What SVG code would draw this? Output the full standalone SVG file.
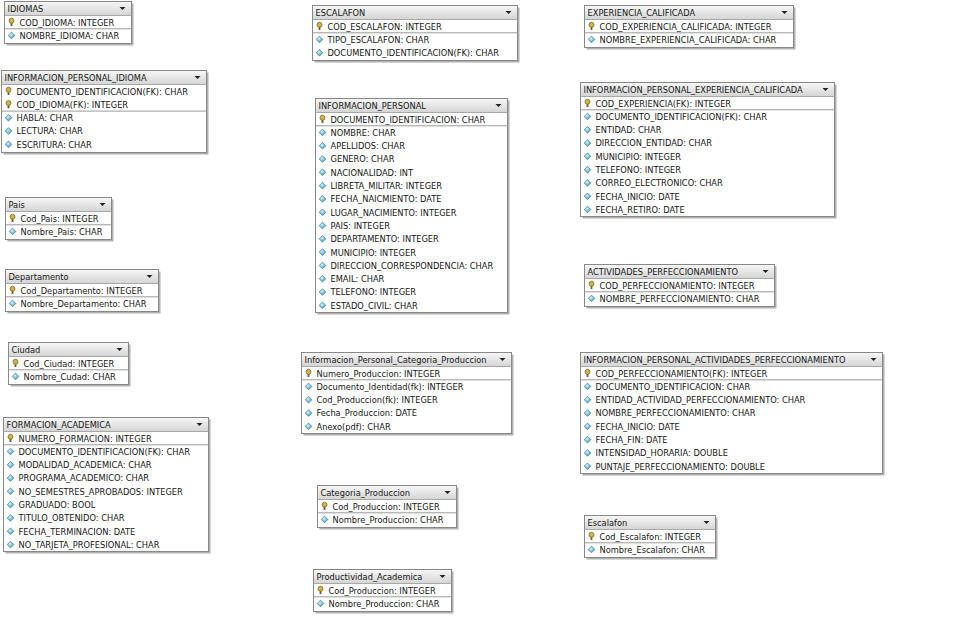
<svg xmlns="http://www.w3.org/2000/svg" xmlns:xlink="http://www.w3.org/1999/xlink" width="960" height="625" viewBox="0 0 960 625">
<defs>
<linearGradient id="tg" x1="0" y1="0" x2="0" y2="1">
<stop offset="0" stop-color="#f6f6f6"/>
<stop offset="1" stop-color="#d4d4d4"/>
</linearGradient>
<radialGradient id="cg" cx="0.4" cy="0.35" r="0.7">
<stop offset="0" stop-color="#d8f2fa"/>
<stop offset="1" stop-color="#3f97b5"/>
</radialGradient>
<g id="key">
<rect x="-0.9" y="-0.5" width="1.8" height="4.4" fill="#6f5e22"/>
<circle cx="0" cy="-1.4" r="2.5" fill="#d2b44a" stroke="#7d6824" stroke-width="0.8"/>
</g>
<g id="col">
<path d="M0,-3.3 L3.3,0 L0,3.3 L-3.3,0 Z" fill="url(#cg)" stroke="#3a86a3" stroke-width="0.8"/>
</g>
<path id="dd" d="M-3,-1.5 L3,-1.5 L0,1.6 Z" fill="#222"/>
</defs>
<style>
.sh{fill:#b0b0b0}
.box{fill:#ffffff;stroke:#888888;stroke-width:1}
.tb{fill:url(#tg)}
.tl{stroke:#a8a8a8;stroke-width:1}
.sep{stroke:#9a9a9a;stroke-width:1}
.t{font-family:"DejaVu Sans Condensed","Liberation Sans Narrow","Liberation Sans",sans-serif;font-size:9.2px;fill:#161616}
</style>
<rect width="960" height="625" fill="#ffffff"/>
<g id="connectors"/>

<g id="IDIOMAS" transform="translate(4.5,1.5)">
<rect class="sh" x="2" y="2" width="127" height="42"/>
<rect class="box" width="127" height="42"/>
<rect class="tb" x="0.5" y="0.5" width="126" height="13.5"/>
<line class="tl" x1="0" y1="14" x2="127" y2="14"/>
<use href="#dd" x="118" y="7"/>
<text class="t" x="3" y="10.5">IDIOMAS</text>
<use href="#key" x="7" y="20.65"/><text class="t" x="15" y="24">COD_IDIOMA: INTEGER</text>
<line class="sep" x1="0" y1="27.3" x2="127" y2="27.3"/>
<use href="#col" x="7" y="33.95"/><text class="t" x="15" y="37.3">NOMBRE_IDIOMA: CHAR</text>
</g>

<g id="INFORMACION_PERSONAL_IDIOMA" transform="translate(1.5,70.5)">
<rect class="sh" x="2" y="2" width="205" height="82"/>
<rect class="box" width="205" height="82"/>
<rect class="tb" x="0.5" y="0.5" width="204" height="13.5"/>
<line class="tl" x1="0" y1="14" x2="205" y2="14"/>
<use href="#dd" x="196" y="7"/>
<text class="t" x="3" y="10.5">INFORMACION_PERSONAL_IDIOMA</text>
<use href="#key" x="7" y="20.65"/><text class="t" x="15" y="24">DOCUMENTO_IDENTIFICACION(FK): CHAR</text>
<use href="#key" x="7" y="33.95"/><text class="t" x="15" y="37.3">COD_IDIOMA(FK): INTEGER</text>
<line class="sep" x1="0" y1="40.6" x2="205" y2="40.6"/>
<use href="#col" x="7" y="47.25"/><text class="t" x="15" y="50.6">HABLA: CHAR</text>
<use href="#col" x="7" y="60.55"/><text class="t" x="15" y="63.9">LECTURA: CHAR</text>
<use href="#col" x="7" y="73.85"/><text class="t" x="15" y="77.2">ESCRITURA: CHAR</text>
</g>

<g id="ESCALAFON" transform="translate(312.5,5.5)">
<rect class="sh" x="2" y="2" width="205" height="55"/>
<rect class="box" width="205" height="55"/>
<rect class="tb" x="0.5" y="0.5" width="204" height="13.5"/>
<line class="tl" x1="0" y1="14" x2="205" y2="14"/>
<use href="#dd" x="196" y="7"/>
<text class="t" x="3" y="10.5">ESCALAFON</text>
<use href="#key" x="7" y="20.65"/><text class="t" x="15" y="24">COD_ESCALAFON: INTEGER</text>
<line class="sep" x1="0" y1="27.3" x2="205" y2="27.3"/>
<use href="#col" x="7" y="33.95"/><text class="t" x="15" y="37.3">TIPO_ESCALAFON: CHAR</text>
<use href="#col" x="7" y="47.25"/><text class="t" x="15" y="50.6">DOCUMENTO_IDENTIFICACION(FK): CHAR</text>
</g>

<g id="EXPERIENCIA_CALIFICADA" transform="translate(584.5,5.5)">
<rect class="sh" x="2" y="2" width="209" height="42"/>
<rect class="box" width="209" height="42"/>
<rect class="tb" x="0.5" y="0.5" width="208" height="13.5"/>
<line class="tl" x1="0" y1="14" x2="209" y2="14"/>
<use href="#dd" x="200" y="7"/>
<text class="t" x="3" y="10.5">EXPERIENCIA_CALIFICADA</text>
<use href="#key" x="7" y="20.65"/><text class="t" x="15" y="24">COD_EXPERIENCIA_CALIFICADA: INTEGER</text>
<line class="sep" x1="0" y1="27.3" x2="209" y2="27.3"/>
<use href="#col" x="7" y="33.95"/><text class="t" x="15" y="37.3">NOMBRE_EXPERIENCIA_CALIFICADA: CHAR</text>
</g>

<g id="INFORMACION_PERSONAL" transform="translate(315.5,98.5)">
<rect class="sh" x="2" y="2" width="192" height="214"/>
<rect class="box" width="192" height="214"/>
<rect class="tb" x="0.5" y="0.5" width="191" height="13.5"/>
<line class="tl" x1="0" y1="14" x2="192" y2="14"/>
<use href="#dd" x="183" y="7"/>
<text class="t" x="3" y="10.5">INFORMACION_PERSONAL</text>
<use href="#key" x="7" y="20.65"/><text class="t" x="15" y="24">DOCUMENTO_IDENTIFICACION: CHAR</text>
<line class="sep" x1="0" y1="27.3" x2="192" y2="27.3"/>
<use href="#col" x="7" y="33.95"/><text class="t" x="15" y="37.3">NOMBRE: CHAR</text>
<use href="#col" x="7" y="47.25"/><text class="t" x="15" y="50.6">APELLIDOS: CHAR</text>
<use href="#col" x="7" y="60.55"/><text class="t" x="15" y="63.9">GENERO: CHAR</text>
<use href="#col" x="7" y="73.85"/><text class="t" x="15" y="77.2">NACIONALIDAD: INT</text>
<use href="#col" x="7" y="87.15"/><text class="t" x="15" y="90.5">LIBRETA_MILITAR: INTEGER</text>
<use href="#col" x="7" y="100.45"/><text class="t" x="15" y="103.8">FECHA_NAICMIENTO: DATE</text>
<use href="#col" x="7" y="113.75"/><text class="t" x="15" y="117.1">LUGAR_NACIMIENTO: INTEGER</text>
<use href="#col" x="7" y="127.05"/><text class="t" x="15" y="130.4">PAIS: INTEGER</text>
<use href="#col" x="7" y="140.35"/><text class="t" x="15" y="143.7">DEPARTAMENTO: INTEGER</text>
<use href="#col" x="7" y="153.65"/><text class="t" x="15" y="157">MUNICIPIO: INTEGER</text>
<use href="#col" x="7" y="166.95"/><text class="t" x="15" y="170.3">DIRECCION_CORRESPONDENCIA: CHAR</text>
<use href="#col" x="7" y="180.25"/><text class="t" x="15" y="183.6">EMAIL: CHAR</text>
<use href="#col" x="7" y="193.55"/><text class="t" x="15" y="196.9">TELEFONO: INTEGER</text>
<use href="#col" x="7" y="206.85"/><text class="t" x="15" y="210.2">ESTADO_CIVIL: CHAR</text>
</g>

<g id="INFORMACION_PERSONAL_EXPERIENCIA_CALIFICADA" transform="translate(580.5,82.5)">
<rect class="sh" x="2" y="2" width="254" height="134"/>
<rect class="box" width="254" height="134"/>
<rect class="tb" x="0.5" y="0.5" width="253" height="13.5"/>
<line class="tl" x1="0" y1="14" x2="254" y2="14"/>
<use href="#dd" x="245" y="7"/>
<text class="t" x="3" y="10.5">INFORMACION_PERSONAL_EXPERIENCIA_CALIFICADA</text>
<use href="#key" x="7" y="20.65"/><text class="t" x="15" y="24">COD_EXPERIENCIA(FK): INTEGER</text>
<line class="sep" x1="0" y1="27.3" x2="254" y2="27.3"/>
<use href="#col" x="7" y="33.95"/><text class="t" x="15" y="37.3">DOCUMENTO_IDENTIFICACION(FK): CHAR</text>
<use href="#col" x="7" y="47.25"/><text class="t" x="15" y="50.6">ENTIDAD: CHAR</text>
<use href="#col" x="7" y="60.55"/><text class="t" x="15" y="63.9">DIRECCION_ENTIDAD: CHAR</text>
<use href="#col" x="7" y="73.85"/><text class="t" x="15" y="77.2">MUNICIPIO: INTEGER</text>
<use href="#col" x="7" y="87.15"/><text class="t" x="15" y="90.5">TELEFONO: INTEGER</text>
<use href="#col" x="7" y="100.45"/><text class="t" x="15" y="103.8">CORREO_ELECTRONICO: CHAR</text>
<use href="#col" x="7" y="113.75"/><text class="t" x="15" y="117.1">FECHA_INICIO: DATE</text>
<use href="#col" x="7" y="127.05"/><text class="t" x="15" y="130.4">FECHA_RETIRO: DATE</text>
</g>

<g id="Pais" transform="translate(5.5,197.5)">
<rect class="sh" x="2" y="2" width="106" height="42"/>
<rect class="box" width="106" height="42"/>
<rect class="tb" x="0.5" y="0.5" width="105" height="13.5"/>
<line class="tl" x1="0" y1="14" x2="106" y2="14"/>
<use href="#dd" x="97" y="7"/>
<text class="t" x="3" y="10.5">Pais</text>
<use href="#key" x="7" y="20.65"/><text class="t" x="15" y="24">Cod_Pais: INTEGER</text>
<line class="sep" x1="0" y1="27.3" x2="106" y2="27.3"/>
<use href="#col" x="7" y="33.95"/><text class="t" x="15" y="37.3">Nombre_Pais: CHAR</text>
</g>

<g id="Departamento" transform="translate(5.5,269.5)">
<rect class="sh" x="2" y="2" width="153" height="42"/>
<rect class="box" width="153" height="42"/>
<rect class="tb" x="0.5" y="0.5" width="152" height="13.5"/>
<line class="tl" x1="0" y1="14" x2="153" y2="14"/>
<use href="#dd" x="144" y="7"/>
<text class="t" x="3" y="10.5">Departamento</text>
<use href="#key" x="7" y="20.65"/><text class="t" x="15" y="24">Cod_Departamento: INTEGER</text>
<line class="sep" x1="0" y1="27.3" x2="153" y2="27.3"/>
<use href="#col" x="7" y="33.95"/><text class="t" x="15" y="37.3">Nombre_Departamento: CHAR</text>
</g>

<g id="Ciudad" transform="translate(8.5,342.5)">
<rect class="sh" x="2" y="2" width="120" height="42"/>
<rect class="box" width="120" height="42"/>
<rect class="tb" x="0.5" y="0.5" width="119" height="13.5"/>
<line class="tl" x1="0" y1="14" x2="120" y2="14"/>
<use href="#dd" x="111" y="7"/>
<text class="t" x="3" y="10.5">Ciudad</text>
<use href="#key" x="7" y="20.65"/><text class="t" x="15" y="24">Cod_Ciudad: INTEGER</text>
<line class="sep" x1="0" y1="27.3" x2="120" y2="27.3"/>
<use href="#col" x="7" y="33.95"/><text class="t" x="15" y="37.3">Nombre_Cudad: CHAR</text>
</g>

<g id="FORMACION_ACADEMICA" transform="translate(3.5,417.5)">
<rect class="sh" x="2" y="2" width="205" height="134"/>
<rect class="box" width="205" height="134"/>
<rect class="tb" x="0.5" y="0.5" width="204" height="13.5"/>
<line class="tl" x1="0" y1="14" x2="205" y2="14"/>
<use href="#dd" x="196" y="7"/>
<text class="t" x="3" y="10.5">FORMACION_ACADEMICA</text>
<use href="#key" x="7" y="20.65"/><text class="t" x="15" y="24">NUMERO_FORMACION: INTEGER</text>
<line class="sep" x1="0" y1="27.3" x2="205" y2="27.3"/>
<use href="#col" x="7" y="33.95"/><text class="t" x="15" y="37.3">DOCUMENTO_IDENTIFICACION(FK): CHAR</text>
<use href="#col" x="7" y="47.25"/><text class="t" x="15" y="50.6">MODALIDAD_ACADEMICA: CHAR</text>
<use href="#col" x="7" y="60.55"/><text class="t" x="15" y="63.9">PROGRAMA_ACADEMICO: CHAR</text>
<use href="#col" x="7" y="73.85"/><text class="t" x="15" y="77.2">NO_SEMESTRES_APROBADOS: INTEGER</text>
<use href="#col" x="7" y="87.15"/><text class="t" x="15" y="90.5">GRADUADO: BOOL</text>
<use href="#col" x="7" y="100.45"/><text class="t" x="15" y="103.8">TITULO_OBTENIDO: CHAR</text>
<use href="#col" x="7" y="113.75"/><text class="t" x="15" y="117.1">FECHA_TERMINACION: DATE</text>
<use href="#col" x="7" y="127.05"/><text class="t" x="15" y="130.4">NO_TARJETA_PROFESIONAL: CHAR</text>
</g>

<g id="Informacion_Personal_Categoria_Produccion" transform="translate(301.5,352.5)">
<rect class="sh" x="2" y="2" width="210" height="81"/>
<rect class="box" width="210" height="81"/>
<rect class="tb" x="0.5" y="0.5" width="209" height="13.5"/>
<line class="tl" x1="0" y1="14" x2="210" y2="14"/>
<use href="#dd" x="201" y="7"/>
<text class="t" x="3" y="10.5">Informacion_Personal_Categoria_Produccion</text>
<use href="#key" x="7" y="20.65"/><text class="t" x="15" y="24">Numero_Produccion: INTEGER</text>
<line class="sep" x1="0" y1="27.3" x2="210" y2="27.3"/>
<use href="#col" x="7" y="33.95"/><text class="t" x="15" y="37.3">Documento_Identidad(fk): INTEGER</text>
<use href="#col" x="7" y="47.25"/><text class="t" x="15" y="50.6">Cod_Produccion(fk): INTEGER</text>
<use href="#col" x="7" y="60.55"/><text class="t" x="15" y="63.9">Fecha_Produccion: DATE</text>
<use href="#col" x="7" y="73.85"/><text class="t" x="15" y="77.2">Anexo(pdf): CHAR</text>
</g>

<g id="ACTIVIDADES_PERFECCIONAMIENTO" transform="translate(584.5,264.5)">
<rect class="sh" x="2" y="2" width="190" height="42"/>
<rect class="box" width="190" height="42"/>
<rect class="tb" x="0.5" y="0.5" width="189" height="13.5"/>
<line class="tl" x1="0" y1="14" x2="190" y2="14"/>
<use href="#dd" x="181" y="7"/>
<text class="t" x="3" y="10.5">ACTIVIDADES_PERFECCIONAMIENTO</text>
<use href="#key" x="7" y="20.65"/><text class="t" x="15" y="24">COD_PERFECCIONAMIENTO: INTEGER</text>
<line class="sep" x1="0" y1="27.3" x2="190" y2="27.3"/>
<use href="#col" x="7" y="33.95"/><text class="t" x="15" y="37.3">NOMBRE_PERFECCIONAMIENTO: CHAR</text>
</g>

<g id="INFORMACION_PERSONAL_ACTIVIDADES_PERFECCIONAMIENTO" transform="translate(580.5,352.5)">
<rect class="sh" x="2" y="2" width="302" height="121"/>
<rect class="box" width="302" height="121"/>
<rect class="tb" x="0.5" y="0.5" width="301" height="13.5"/>
<line class="tl" x1="0" y1="14" x2="302" y2="14"/>
<use href="#dd" x="293" y="7"/>
<text class="t" x="3" y="10.5">INFORMACION_PERSONAL_ACTIVIDADES_PERFECCIONAMIENTO</text>
<use href="#key" x="7" y="20.65"/><text class="t" x="15" y="24">COD_PERFECCIONAMIENTO(FK): INTEGER</text>
<line class="sep" x1="0" y1="27.3" x2="302" y2="27.3"/>
<use href="#col" x="7" y="33.95"/><text class="t" x="15" y="37.3">DOCUMENTO_IDENTIFICACION: CHAR</text>
<use href="#col" x="7" y="47.25"/><text class="t" x="15" y="50.6">ENTIDAD_ACTIVIDAD_PERFECCIONAMIENTO: CHAR</text>
<use href="#col" x="7" y="60.55"/><text class="t" x="15" y="63.9">NOMBRE_PERFECCIONAMIENTO: CHAR</text>
<use href="#col" x="7" y="73.85"/><text class="t" x="15" y="77.2">FECHA_INICIO: DATE</text>
<use href="#col" x="7" y="87.15"/><text class="t" x="15" y="90.5">FECHA_FIN: DATE</text>
<use href="#col" x="7" y="100.45"/><text class="t" x="15" y="103.8">INTENSIDAD_HORARIA: DOUBLE</text>
<use href="#col" x="7" y="113.75"/><text class="t" x="15" y="117.1">PUNTAJE_PERFECCIONAMIENTO: DOUBLE</text>
</g>

<g id="Categoria_Produccion" transform="translate(317.5,485.5)">
<rect class="sh" x="2" y="2" width="139" height="42"/>
<rect class="box" width="139" height="42"/>
<rect class="tb" x="0.5" y="0.5" width="138" height="13.5"/>
<line class="tl" x1="0" y1="14" x2="139" y2="14"/>
<use href="#dd" x="130" y="7"/>
<text class="t" x="3" y="10.5">Categoria_Produccion</text>
<use href="#key" x="7" y="20.65"/><text class="t" x="15" y="24">Cod_Produccion: INTEGER</text>
<line class="sep" x1="0" y1="27.3" x2="139" y2="27.3"/>
<use href="#col" x="7" y="33.95"/><text class="t" x="15" y="37.3">Nombre_Produccion: CHAR</text>
</g>

<g id="Productividad_Academica" transform="translate(313.5,569.5)">
<rect class="sh" x="2" y="2" width="138" height="42"/>
<rect class="box" width="138" height="42"/>
<rect class="tb" x="0.5" y="0.5" width="137" height="13.5"/>
<line class="tl" x1="0" y1="14" x2="138" y2="14"/>
<use href="#dd" x="129" y="7"/>
<text class="t" x="3" y="10.5">Productividad_Academica</text>
<use href="#key" x="7" y="20.65"/><text class="t" x="15" y="24">Cod_Produccion: INTEGER</text>
<line class="sep" x1="0" y1="27.3" x2="138" y2="27.3"/>
<use href="#col" x="7" y="33.95"/><text class="t" x="15" y="37.3">Nombre_Produccion: CHAR</text>
</g>

<g id="Escalafon" transform="translate(584.5,515.5)">
<rect class="sh" x="2" y="2" width="131" height="42"/>
<rect class="box" width="131" height="42"/>
<rect class="tb" x="0.5" y="0.5" width="130" height="13.5"/>
<line class="tl" x1="0" y1="14" x2="131" y2="14"/>
<use href="#dd" x="122" y="7"/>
<text class="t" x="3" y="10.5">Escalafon</text>
<use href="#key" x="7" y="20.65"/><text class="t" x="15" y="24">Cod_Escalafon: INTEGER</text>
<line class="sep" x1="0" y1="27.3" x2="131" y2="27.3"/>
<use href="#col" x="7" y="33.95"/><text class="t" x="15" y="37.3">Nombre_Escalafon: CHAR</text>
</g>
</svg>
